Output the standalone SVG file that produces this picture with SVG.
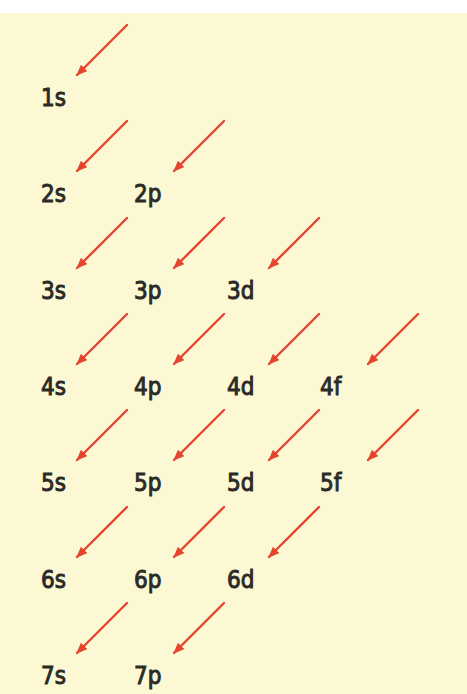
<svg xmlns="http://www.w3.org/2000/svg" width="467" height="694" viewBox="0 0 467 694">
<defs>
<marker id="ah" markerUnits="userSpaceOnUse" markerWidth="11" markerHeight="9" refX="10" refY="4.5" orient="auto">
<path d="M0,0 L11,4.5 L0,9 z" fill="#e5452e"/>
</marker>
<style>
.lbl{font-family:"DejaVu Sans Condensed","DejaVu Sans",sans-serif;font-size:24px;fill:#2a2a26;stroke:#2a2a26;stroke-width:0.9px}
.arr{stroke:#e5452e;stroke-width:2.4;fill:none;stroke-linecap:round;marker-end:url(#ah)}
</style>
</defs>
<rect x="0" y="0" width="467" height="694" fill="#ffffff"/>
<rect x="0" y="13" width="467" height="681" fill="#fcf8d3"/>
<g id="connectors">
<line class="arr" x1="127" y1="25" x2="77" y2="75"/>
<line class="arr" x1="127" y1="121" x2="77" y2="171"/>
<line class="arr" x1="224" y1="121" x2="174" y2="171"/>
<line class="arr" x1="127" y1="218" x2="77" y2="268"/>
<line class="arr" x1="224" y1="218" x2="174" y2="268"/>
<line class="arr" x1="319" y1="218" x2="269" y2="268"/>
<line class="arr" x1="127" y1="314" x2="77" y2="364"/>
<line class="arr" x1="224" y1="314" x2="174" y2="364"/>
<line class="arr" x1="319" y1="314" x2="269" y2="364"/>
<line class="arr" x1="418" y1="314" x2="368" y2="364"/>
<line class="arr" x1="127" y1="410" x2="77" y2="460"/>
<line class="arr" x1="224" y1="410" x2="174" y2="460"/>
<line class="arr" x1="319" y1="410" x2="269" y2="460"/>
<line class="arr" x1="418" y1="410" x2="368" y2="460"/>
<line class="arr" x1="127" y1="507" x2="77" y2="557"/>
<line class="arr" x1="224" y1="507" x2="174" y2="557"/>
<line class="arr" x1="319" y1="507" x2="269" y2="557"/>
<line class="arr" x1="127" y1="603" x2="77" y2="653"/>
<line class="arr" x1="224" y1="603" x2="174" y2="653"/>
</g>
<g id="n1s"><text class="lbl" x="41" y="106">1s</text></g>
<g id="n2s"><text class="lbl" x="41" y="202">2s</text></g>
<g id="n2p"><text class="lbl" x="134" y="202">2p</text></g>
<g id="n3s"><text class="lbl" x="41" y="299">3s</text></g>
<g id="n3p"><text class="lbl" x="134" y="299">3p</text></g>
<g id="n3d"><text class="lbl" x="227" y="299">3d</text></g>
<g id="n4s"><text class="lbl" x="41" y="395">4s</text></g>
<g id="n4p"><text class="lbl" x="134" y="395">4p</text></g>
<g id="n4d"><text class="lbl" x="227" y="395">4d</text></g>
<g id="n4f"><text class="lbl" x="320" y="395">4f</text></g>
<g id="n5s"><text class="lbl" x="41" y="491">5s</text></g>
<g id="n5p"><text class="lbl" x="134" y="491">5p</text></g>
<g id="n5d"><text class="lbl" x="227" y="491">5d</text></g>
<g id="n5f"><text class="lbl" x="320" y="491">5f</text></g>
<g id="n6s"><text class="lbl" x="41" y="588">6s</text></g>
<g id="n6p"><text class="lbl" x="134" y="588">6p</text></g>
<g id="n6d"><text class="lbl" x="227" y="588">6d</text></g>
<g id="n7s"><text class="lbl" x="41" y="684">7s</text></g>
<g id="n7p"><text class="lbl" x="134" y="684">7p</text></g>
</svg>
